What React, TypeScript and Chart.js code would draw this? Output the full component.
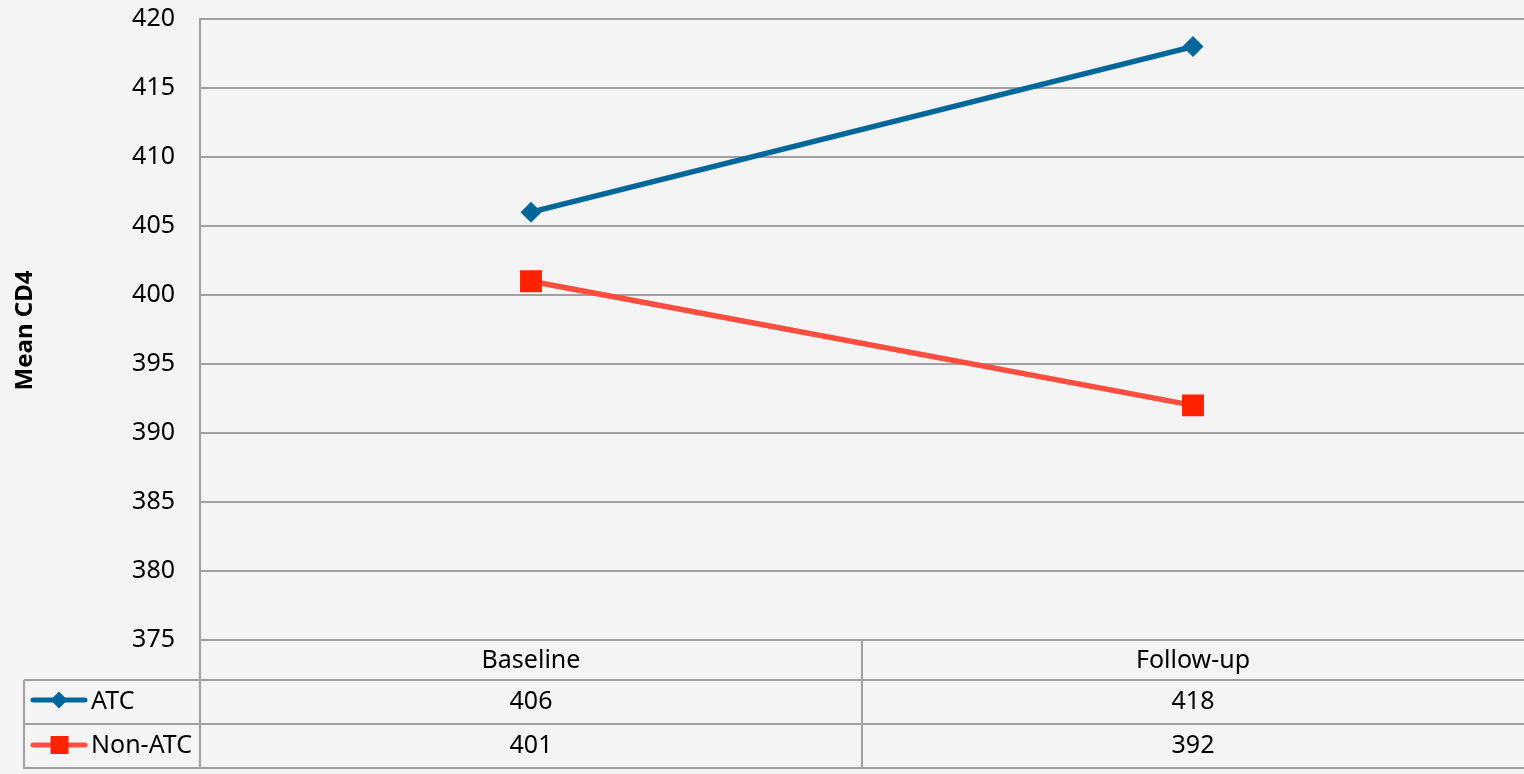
import React, { useEffect, useRef } from "react";
import { Chart, registerables } from "chart.js";

Chart.register(...registerables);

const categories = ["Baseline", "Follow-up"];
const atcValues = [406, 418];
const nonAtcValues = [401, 392];
const seriesNames = ["ATC", "Non-ATC"];
const yMin = 375;
const yMax = 420;
const yStep = 5;
const yTitle = "Mean CD4";

const FONT = "'Noto Sans', sans-serif";
const GRID = "#a0a0a0";
const BLUE = "#00679a";
const RED_LINE = "#ff4d40";
const RED_MARK = "#ff2200";

const tablePlugin = {
  id: "dataTable",
  afterDraw(chart: any) {
    const ctx = chart.ctx as CanvasRenderingContext2D;
    const x = chart.scales.x;
    const area = chart.chartArea;
    const left = area.left;
    const right = chart.width;
    const top0 = area.bottom; // 640
    const rowH = [top0 + 40, top0 + 84, top0 + 128];
    const xs = categories.map((_, i) => x.getPixelForValue(i));
    const mid = (xs[0] + xs[1]) / 2;
    const tableLeft = 24;

    ctx.save();
    ctx.strokeStyle = GRID;
    ctx.lineWidth = 2;
    ctx.beginPath();
    for (const y of rowH) {
      ctx.moveTo(tableLeft, y);
      ctx.lineTo(right, y);
    }
    ctx.moveTo(left, top0);
    ctx.lineTo(left, rowH[2] + 1);
    ctx.moveTo(mid, top0);
    ctx.lineTo(mid, rowH[2] + 1);
    ctx.moveTo(tableLeft, rowH[0]);
    ctx.lineTo(tableLeft, rowH[2] + 1);
    ctx.stroke();

    // texts
    ctx.fillStyle = "#000";
    ctx.font = `25px ${FONT}`;
    ctx.textAlign = "center";
    ctx.textBaseline = "middle";
    const headY = (top0 + rowH[0]) / 2 + 1;
    const r1Y = (rowH[0] + rowH[1]) / 2;
    const r2Y = (rowH[1] + rowH[2]) / 2;
    categories.forEach((c, i) => {
      ctx.fillText(c, xs[i], headY);
      ctx.fillText(String(atcValues[i]), xs[i], r1Y);
      ctx.fillText(String(nonAtcValues[i]), xs[i], r2Y);
    });

    // legend keys
    ctx.textAlign = "left";
    ctx.fillText(seriesNames[0], 91, r1Y);
    ctx.fillText(seriesNames[1], 91, r2Y);

    ctx.lineCap = "round";
    ctx.lineWidth = 5;
    ctx.strokeStyle = BLUE;
    ctx.beginPath();
    ctx.moveTo(33, r1Y - 2);
    ctx.lineTo(85, r1Y - 2);
    ctx.stroke();
    ctx.fillStyle = BLUE;
    ctx.beginPath();
    const cx = 59, cy = r1Y - 2, d = 8.5;
    ctx.moveTo(cx, cy - d);
    ctx.lineTo(cx + d, cy);
    ctx.lineTo(cx, cy + d);
    ctx.lineTo(cx - d, cy);
    ctx.closePath();
    ctx.fill();

    ctx.strokeStyle = RED_LINE;
    ctx.beginPath();
    ctx.moveTo(33, r2Y - 1);
    ctx.lineTo(85, r2Y - 1);
    ctx.stroke();
    ctx.fillStyle = RED_MARK;
    ctx.fillRect(59.5 - 9, r2Y - 1 - 9, 18, 18);

    // y title
    ctx.fillStyle = "#000";
    ctx.font = `bold 24px ${FONT}`;
    ctx.translate(25, (area.top + area.bottom) / 2 + 1);
    ctx.rotate(-Math.PI / 2);
    ctx.textAlign = "center";
    ctx.textBaseline = "middle";
    ctx.fillText(yTitle, 0, 0);
    ctx.restore();
  },
};

export default function App() {
  const ref = useRef<HTMLCanvasElement | null>(null);
  useEffect(() => {
    if (!ref.current) return;
    const chart = new Chart(ref.current, {
      type: "line",
      data: {
        labels: categories,
        datasets: [
          {
            label: seriesNames[0],
            data: atcValues,
            borderColor: BLUE,
            backgroundColor: BLUE,
            borderWidth: 5.5,
            pointStyle: "rectRot",
            pointRadius: 10.5,
            pointBorderWidth: 0,
            pointBackgroundColor: BLUE,
            pointBorderColor: BLUE,
          },
          {
            label: seriesNames[1],
            data: nonAtcValues,
            borderColor: RED_LINE,
            backgroundColor: RED_MARK,
            borderWidth: 5.5,
            pointStyle: "rect",
            pointRadius: 15.5,
            pointBorderWidth: 0,
            pointBackgroundColor: RED_MARK,
            pointBorderColor: RED_MARK,
          },
        ],
      },
      options: {
        animation: false,
        responsive: false,
        devicePixelRatio: 1,
        layout: { autoPadding: false, padding: { left: 0, top: 19, right: 0, bottom: 134 } },
        plugins: {
          legend: { display: false },
          tooltip: { enabled: false },
        },
        scales: {
          x: {
            type: "category",
            offset: true,
            display: false,
          },
          y: {
            min: yMin,
            max: yMax,
            afterFit(scale: any) {
              scale.width = 200;
              scale.paddingTop = 0;
              scale.paddingBottom = 0;
            },
            ticks: {
              stepSize: yStep,
              color: "#000",
              font: { family: FONT, size: 25 },
              padding: 25,
            },
            grid: { color: GRID, lineWidth: 2, drawTicks: false },
            border: { display: true, color: GRID, width: 2 },
          },
        },
      },
      plugins: [tablePlugin],
    });
    return () => chart.destroy();
  }, []);
  return (
    <div
      style={{
        position: "absolute",
        left: 0,
        top: 0,
        width: 1524,
        height: 774,
        background: "#f4f4f4",
      }}
    >
      <canvas ref={ref} width={1524} height={774} style={{ display: "block" }} />
    </div>
  );
}
